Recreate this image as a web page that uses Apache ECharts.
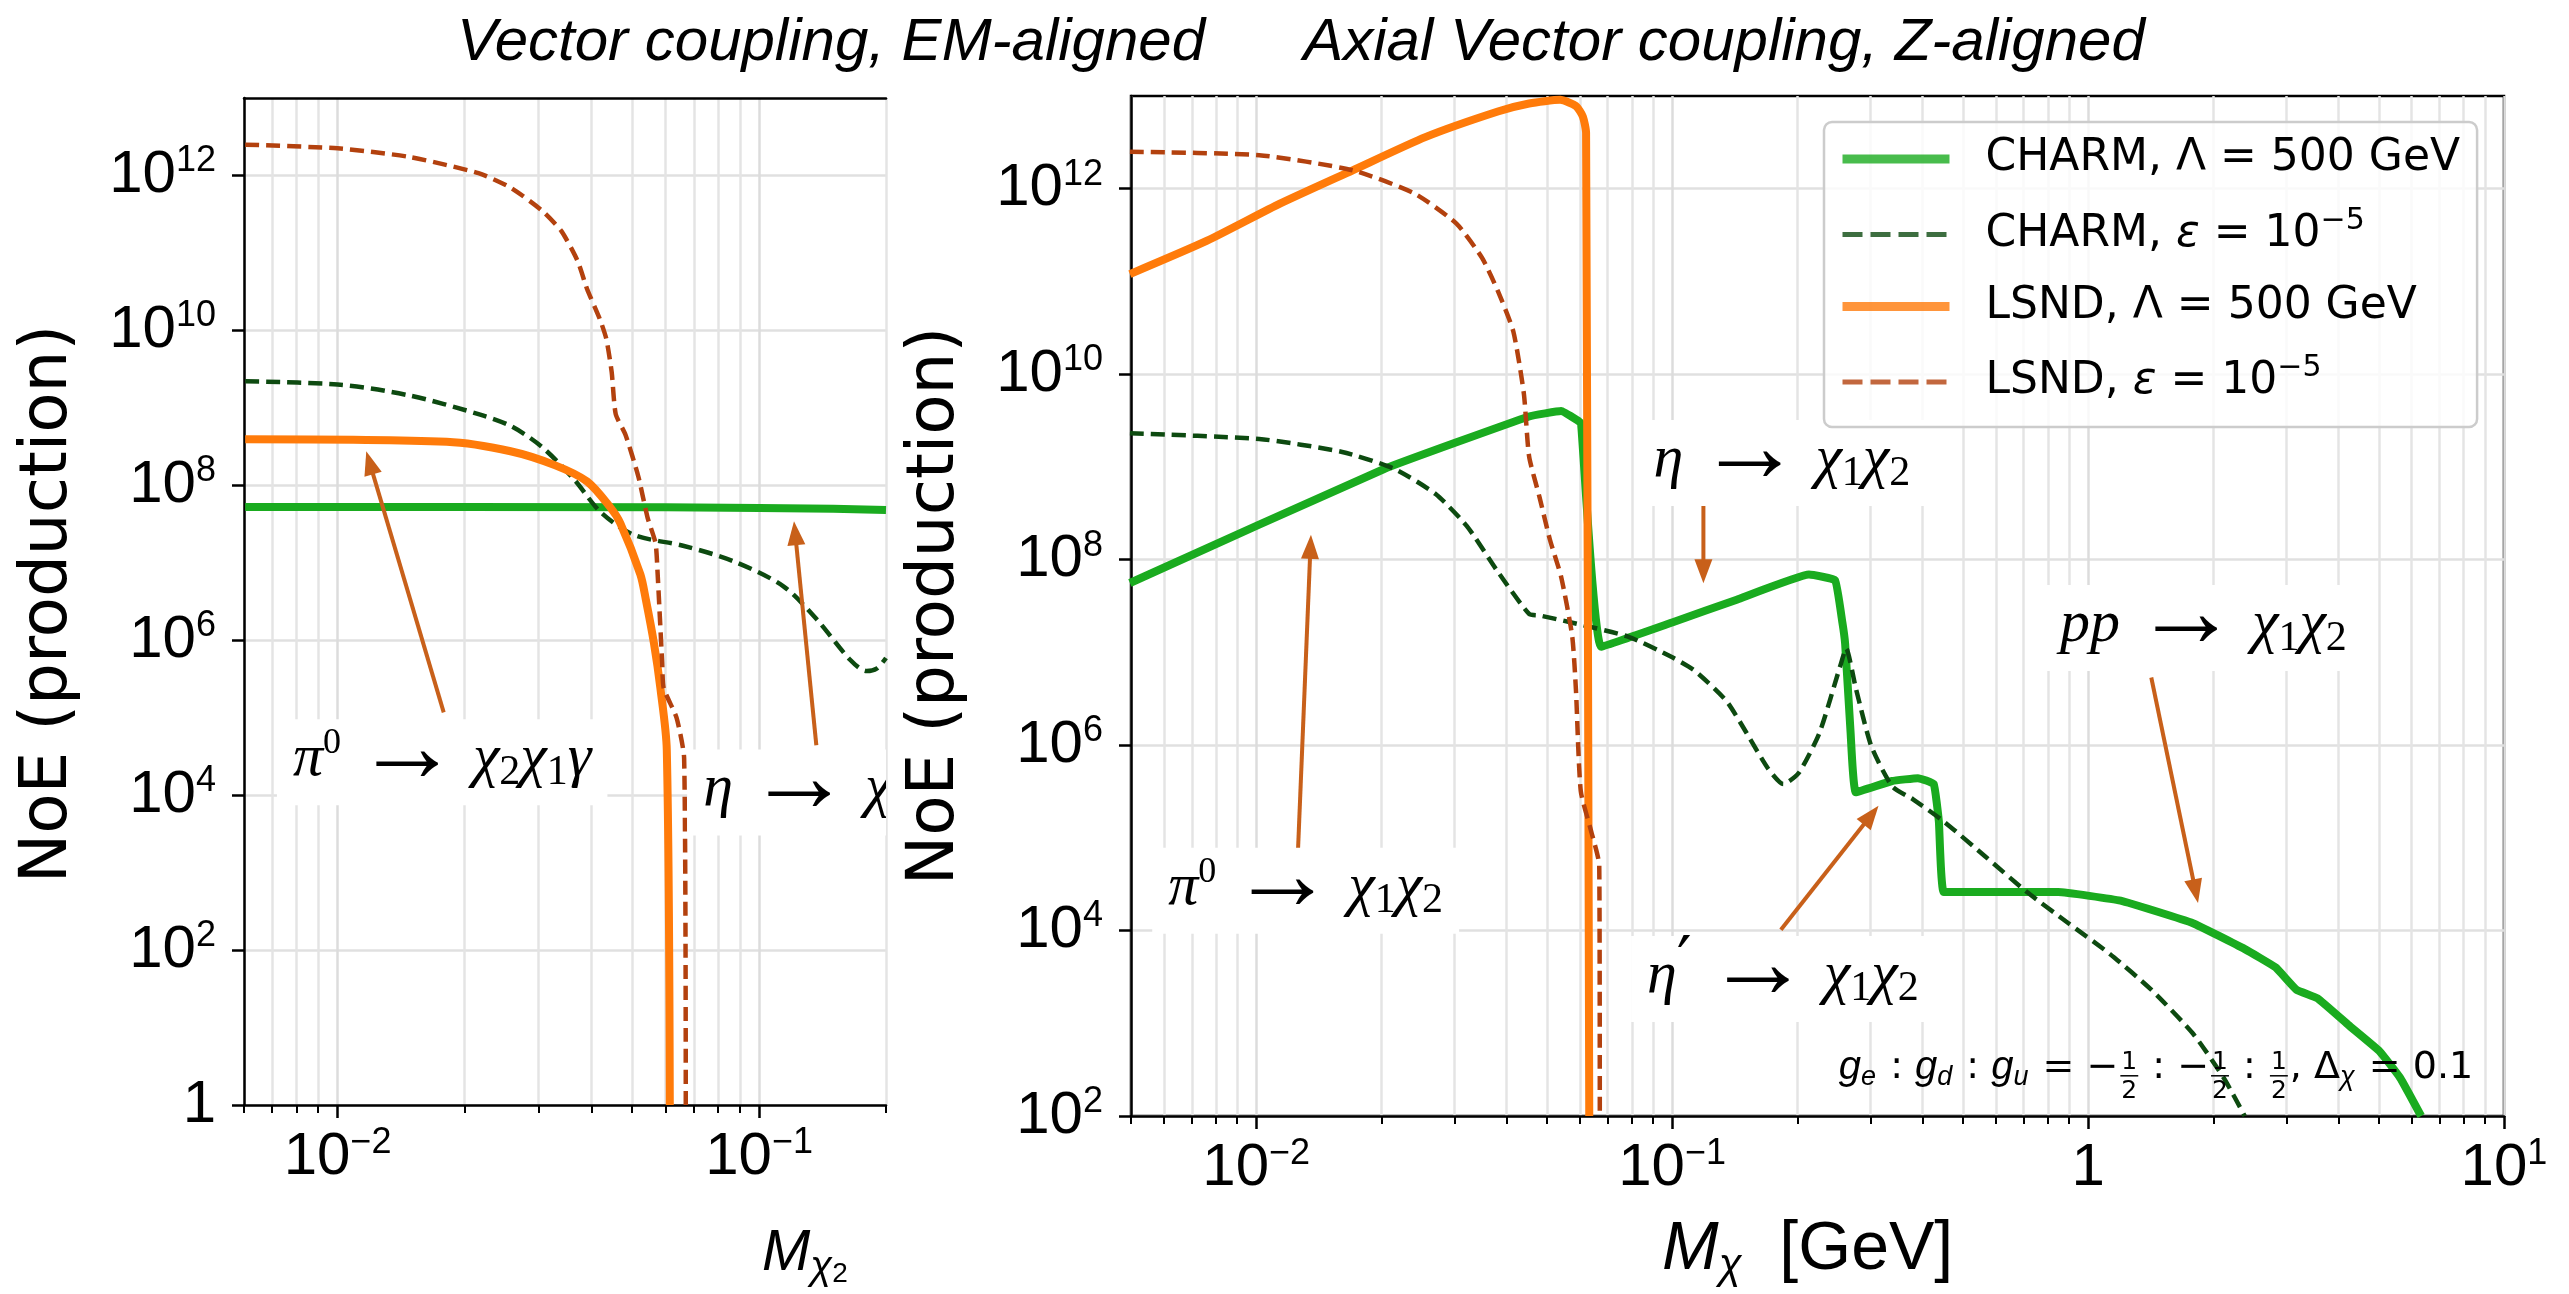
<!DOCTYPE html>
<html>
<head>
<meta charset="utf-8">
<script src="https://cdn.jsdelivr.net/npm/echarts@6/dist/echarts.min.js"></script>
<style>
  html, body { margin: 0; padding: 0; background: #ffffff; }
  #chart { width: 2569px; height: 1294px; }
</style>
</head>
<body>
<div id="chart"></div>
<script>
// ---------------------------------------------------------------------------
// Number of produced events vs. dark-state mass  [mass in GeV, NoE]
// ---------------------------------------------------------------------------

// Vector coupling, EM-aligned (left panel, mass of chi_2)
const vecCharmLambda = [[0.00604, 5.25e7], [0.02, 5.25e7], [0.06, 5.2e7], [0.1, 5.1e7], [0.15, 5.0e7], [0.2, 4.8e7]];
const vecCharmEps = [[0.00604, 2.2e9], [0.01, 2.0e9], [0.01476, 1.45e9], [0.0216, 8.3e8], [0.0258, 5.8e8],
  [0.0306, 3.1e8], [0.0365, 1.17e8], [0.0421, 4.5e7], [0.0504, 2.3e7], [0.066, 1.66e7], [0.0868, 1.05e7],
  [0.114, 5.0e6], [0.137, 1.86e6], [0.1644, 5.6e5], [0.18, 4.0e5], [0.19, 4.3e5], [0.2, 5.9e5]];
const vecLsndLambda = [[0.00604, 3.93e8], [0.01815, 3.64e8], [0.02573, 2.75e8], [0.03285, 1.81e8],
  [0.03909, 1.12e8], [0.04437, 5.19e7], [0.04688, 3.23e7], [0.05228, 7.08e6], [0.05386, 3.37e6],
  [0.05634, 9.0e5], [0.05831, 2.43e5], [0.0604, 3.84e4], [0.0614, 1]];
const vecLsndEps = [[0.00604, 2.5e12], [0.01, 2.24e12], [0.01476, 1.74e12], [0.0216, 1.07e12], [0.0258, 6.9e11],
  [0.0306, 3.5e11], [0.034, 1.9e11], [0.0371, 7.9e10], [0.0391, 3.4e10], [0.0419, 1.4e10], [0.0434, 7.8e9],
  [0.0447, 2.9e9], [0.0457, 8.3e8], [0.0482, 4.5e8], [0.0517, 1.3e8], [0.0544, 3.8e7], [0.0568, 1.8e7],
  [0.0574, 8.0e6], [0.0589, 5.1e5], [0.0594, 2.4e5], [0.0637, 1.0e5], [0.0664, 3.0e4], [0.067, 1]];

// Axial vector coupling, Z-aligned (right panel, mass of chi)
const axCharmLambda = [[0.00497, 5.6e7], [0.0203, 9.5e8], [0.0453, 3.5e9], [0.0541, 4.0e9], [0.0597, 3.1e9],
  [0.0604, 2.95e9], [0.0675, 1.15e7], [0.1, 2.1e7], [0.143, 3.7e7], [0.2133, 6.9e7], [0.2464, 6.0e7],
  [0.2566, 2.1e7], [0.2606, 1.23e7], [0.2686, 1.35e6], [0.2765, 3.1e5], [0.338, 4.1e5], [0.39, 4.4e5],
  [0.4255, 3.8e5], [0.4378, 1.5e5], [0.45, 2.6e4], [0.566, 2.6e4], [0.847, 2.6e4], [1.197, 2.1e4],
  [1.787, 1.2e4], [2.382, 6.3e3], [2.825, 4.0e3], [3.17, 2.3e3], [3.56, 1.86e3], [4.23, 955], [5.02, 500],
  [5.63, 257], [6.32, 100]];
const axCharmEps = [[0.00497, 2.3e9], [0.01017, 2.0e9], [0.0161, 1.45e9], [0.0215, 9.5e8], [0.027, 5.1e8],
  [0.0321, 2.3e8], [0.0381, 7.4e7], [0.0453, 2.6e7], [0.048, 2.5e7], [0.0572, 2.1e7], [0.0783, 1.48e7],
  [0.0998, 8.9e6], [0.1135, 6.3e6], [0.135, 3.0e6], [0.151, 1.35e6], [0.17, 5.6e5], [0.185, 3.8e5],
  [0.2015, 5.0e5], [0.226, 1.35e6], [0.2535, 7.1e6], [0.262, 1.1e7], [0.2765, 4.1e6], [0.301, 9.8e5],
  [0.338, 3.6e5], [0.3795, 2.6e5], [0.45, 1.5e5], [0.566, 6.3e4], [0.713, 2.6e4], [0.897, 1.2e4],
  [1.128, 5.6e3], [1.419, 2.3e3], [1.787, 776], [2.12, 257], [2.38, 100]];
const axLsndLambda = [[0.00497, 1.2e11], [0.00762, 2.75e11], [0.0114, 6.9e11], [0.01706, 1.58e12],
  [0.0255, 3.6e12], [0.0381, 6.8e12], [0.0453, 8.3e12], [0.0538, 9.1e12], [0.0587, 7.8e12], [0.061, 6.0e12],
  [0.0621, 4.0e12], [0.0632, 100]];
const axLsndEps = [[0.00497, 2.5e12], [0.01017, 2.3e12], [0.01706, 1.58e12], [0.024, 8.9e11], [0.0303, 4.2e11],
  [0.0349, 1.8e11], [0.0381, 7.9e10], [0.0415, 2.9e10], [0.044, 6.2e9], [0.0453, 1.3e9], [0.048, 4.7e8],
  [0.0508, 1.66e8], [0.0541, 6.5e7], [0.0575, 1.5e7], [0.0587, 4.0e6], [0.0603, 3.2e5], [0.0638, 1.2e5],
  [0.0668, 5.0e4], [0.067, 100]];

// Axis ticks
const leftXMajor = [0.01, 0.1];
const leftXMinor = [0.006, 0.007, 0.008, 0.009, 0.02, 0.03, 0.04, 0.05, 0.06, 0.07, 0.08, 0.09, 0.2];
const rightXMajor = [0.01, 0.1, 1, 10];
const rightXMinor = [0.005, 0.006, 0.007, 0.008, 0.009, 0.02, 0.03, 0.04, 0.05, 0.06, 0.07, 0.08, 0.09,
  0.2, 0.3, 0.4, 0.5, 0.6, 0.7, 0.8, 0.9, 2, 3, 4, 5, 6, 7, 8, 9];
const leftYMajor = [1, 1e2, 1e4, 1e6, 1e8, 1e10, 1e12];
const rightYMajor = [1e2, 1e4, 1e6, 1e8, 1e10, 1e12];

// Series names and their legend labels
const seriesNames = ['CHARM, \u039b = 500 GeV', 'CHARM, \u03b5 = 10\u207b\u2075', 'LSND, \u039b = 500 GeV', 'LSND, \u03b5 = 10\u207b\u2075'];
const legendLabels = [
  '{r|CHARM, \u039b = 500 GeV}',
  '{r|CHARM, }{i|\u03b5}{r| = 10}{s|\u22125}',
  '{r|LSND, \u039b = 500 GeV}',
  '{r|LSND, }{i|\u03b5}{r| = 10}{s|\u22125}'
];

// Process labels (anchor = [mass, NoE]) and arrows ([from], [to])
const TO = '{w| }{a|\u2192}{w| }';
const leftNotes = [
  { text: '{i|\u03c0}{p|0}' + TO + '{i|\u03c7}{b|2}{i|\u03c7}{b|1}{i|\u03b3}', at: [0.01771, 2.65e4], align: 'center' },
  { text: '{i|\u03b7}' + TO + '{i|\u03c7}{b|2}{i|\u03c7}{b|1}{i|\u03b3}', at: [0.0675, 1.08e4], align: 'left' }
];
const leftArrows = [
  { from: [0.01786, 1.17e5], to: [0.0117, 2.75e8] },
  { from: [0.1367, 4.4e4], to: [0.121, 3.43e7] }
];
const rightNotes = [
  { text: '{i|\u03b7}' + TO + '{i|\u03c7}{b|1}{i|\u03c7}{b|2}', at: [0.1836, 1.1e9], align: 'center' },
  { text: '{i|pp}' + TO + '{i|\u03c7}{b|1}{i|\u03c7}{b|2}', at: [1.894, 1.83e7], align: 'center' },
  { text: '{i|\u03c0}{p|0}' + TO + '{i|\u03c7}{b|1}{i|\u03c7}{b|2}', at: [0.01315, 2.68e4], align: 'center' },
  { text: '{i|\u03b7}{q|\u2032}' + TO + '{i|\u03c7}{b|1}{i|\u03c7}{b|2}', at: [0.1846, 3.01e3], align: 'center' }
];
const rightArrows = [
  { from: [0.1189, 3.88e8], to: [0.1189, 5.56e7] },
  { from: [1.419, 5.36e6], to: [1.838, 1.98e4] },
  { from: [0.01259, 6.6e4], to: [0.01354, 1.85e8] },
  { from: [0.1826, 1.02e4], to: [0.3135, 2.22e5] }
];
// Coupling ratio note, right-aligned at [mass, NoE]
const ratioAnchor = [8.43, 331];
const ratioParts = [
  ['g', 'it'], ['e', 'sub'], [' : ', 'rm'], ['g', 'it'], ['d', 'sub'], [' : ', 'rm'], ['g', 'it'], ['u', 'sub'],
  [' = \u2212', 'rm'], [['1', '2'], 'frac'], [' : \u2212', 'rm'], [['1', '2'], 'frac'], [' : ', 'rm'],
  [['1', '2'], 'frac'], [', \u0394', 'rm'], ['\u03c7', 'sub'], [' = 0.1', 'rm']
];

// ---------------------------------------------------------------------------
const SANS = '"Liberation Sans", Arial, sans-serif';
const DEJAVU = '"DejaVu Sans", sans-serif';
const SERIF = '"Liberation Serif", "DejaVu Serif", serif';

const COL_CHARM_L = '#1aab1f';
const COL_CHARM_E = '#0d4a10';
const COL_LSND_L = '#ff7b0a';
const COL_LSND_E = '#b3410e';
const COL_ARROW = '#c8601a';

function powLabel(v) {
  const e = Math.round(Math.log10(v));
  if (e === 0) return '{b|1}';
  return '{b|10}{s|' + (e < 0 ? '\u2212' + (-e) : String(e)) + '}';
}
// base digits centred in a 76px line, exponent raised by 14px
const tickRich = {
  b: { fontFamily: SANS, fontSize: 60, height: 76, lineHeight: 76, verticalAlign: 'bottom', color: '#000' },
  s: { fontFamily: SANS, fontSize: 36, height: 48, lineHeight: 48, verticalAlign: 'top', color: '#000' }
};

function majorX(grid, min, max, ticks) {
  return {
    type: 'log', gridIndex: grid, min: min, max: max, position: 'bottom',
    axisLine: { show: true, onZero: false, lineStyle: { color: '#000', width: 2.5 } },
    axisTick: { show: true, customValues: ticks, length: 13, lineStyle: { color: '#000', width: 2.5 } },
    axisLabel: { show: true, customValues: ticks, formatter: powLabel, rich: tickRich, margin: 14 },
    splitLine: { show: true, lineStyle: { color: '#dcdcdc', width: 2.5 } },
    minorTick: { show: false }, minorSplitLine: { show: false }
  };
}
function minorX(grid, min, max, ticks) {
  return {
    type: 'log', gridIndex: grid, min: min, max: max, position: 'bottom',
    axisLine: { show: false, onZero: false },
    axisTick: { show: true, customValues: ticks, length: 8, lineStyle: { color: '#000', width: 2 } },
    axisLabel: { show: false },
    splitLine: { show: true, lineStyle: { color: '#e4e4e4', width: 2.5 } }
  };
}
function majorY(grid, min, max, ticks) {
  return {
    type: 'log', gridIndex: grid, min: min, max: max, position: 'left',
    axisLine: { show: true, onZero: false, lineStyle: { color: '#000', width: 2.5 } },
    axisTick: { show: true, customValues: ticks, length: 12, lineStyle: { color: '#000', width: 2.5 } },
    axisLabel: { show: true, customValues: ticks, formatter: powLabel, rich: tickRich, margin: 28 },
    splitLine: { show: true, lineStyle: { color: '#e0e0e0', width: 2.5 } }
  };
}

function lineSeries(name, data, xi, yi, color, width, dashed, smooth) {
  return {
    type: 'line', name: name, data: data, xAxisIndex: xi, yAxisIndex: yi,
    showSymbol: false, symbol: 'none', clip: true, silent: true, z: 2, smooth: smooth || false,
    lineStyle: { color: color, width: width, type: dashed ? [14, 7] : 'solid', cap: 'butt', join: 'round' },
    itemStyle: { color: color }
  };
}

// math-like labels in the plot: base glyphs centred 32px below line top,
// subscripts 13.5px lower, superscripts 15.5px higher
const noteRich = {
  i: { fontFamily: SERIF, fontStyle: 'italic', fontSize: 60, height: 64, lineHeight: 64, verticalAlign: 'bottom', color: '#000' },
  w: { fontFamily: SERIF, fontSize: 56, height: 64, lineHeight: 64, verticalAlign: 'bottom', color: '#000' },
  a: { fontFamily: SERIF, fontSize: 104, height: 76, lineHeight: 64, verticalAlign: 'bottom', color: '#000' },
  b: { fontFamily: SERIF, fontSize: 42, height: 37, lineHeight: 37, verticalAlign: 'bottom', color: '#000' },
  p: { fontFamily: SERIF, fontSize: 36, height: 33, lineHeight: 33, verticalAlign: 'top', color: '#000' },
  q: { fontFamily: DEJAVU, fontSize: 66, height: 44, lineHeight: 44, verticalAlign: 'top', color: '#000' }
};

function arrowShapes(api, arrows) {
  const out = [];
  arrows.forEach(function (a) {
    const p0 = api.coord(a.from), p1 = api.coord(a.to);
    const dx = p1[0] - p0[0], dy = p1[1] - p0[1];
    const len = Math.sqrt(dx * dx + dy * dy);
    const ux = dx / len, uy = dy / len, nx = -uy, ny = ux;
    const hl = 24, hw = 9;
    const bx = p1[0] - ux * hl, by = p1[1] - uy * hl;
    out.push({ type: 'line', shape: { x1: p0[0], y1: p0[1], x2: bx + ux * 2, y2: by + uy * 2 },
      style: { stroke: COL_ARROW, lineWidth: 4 } });
    out.push({ type: 'polygon', shape: { points: [[p1[0], p1[1]], [bx + nx * hw, by + ny * hw], [bx - nx * hw, by - ny * hw]] },
      style: { fill: COL_ARROW } });
  });
  return out;
}
function noteShapes(api, notes) {
  return notes.map(function (n) {
    const p = api.coord(n.at);
    return { type: 'text', x: p[0], y: p[1], style: {
      text: n.text, rich: noteRich, align: n.align, verticalAlign: 'middle',
      backgroundColor: '#ffffff', padding: [8, 16, 14, 16] } };
  });
}

const measureCtx = document.createElement('canvas').getContext('2d');
function textW(str, font) { measureCtx.font = font; return measureCtx.measureText(str).width; }
function ratioShapes(api) {
  const p = api.coord(ratioAnchor);
  const fonts = {
    it: 'italic 40px ' + SANS, rm: '38px ' + DEJAVU, sub: 'italic 27px ' + SANS, frac: '25px ' + DEJAVU
  };
  const widths = ratioParts.map(function (part) {
    if (part[1] === 'frac') return Math.max(textW(part[0][0], fonts.frac), textW(part[0][1], fonts.frac)) + 6;
    return textW(part[0], fonts[part[1]]) + (part[1] === 'sub' ? 2 : 0);
  });
  const total = widths.reduce(function (s, w) { return s + w; }, 0);
  let x = p[0] - total;
  const c = p[1];
  const out = [];
  ratioParts.forEach(function (part, k) {
    const w = widths[k];
    if (part[1] === 'frac') {
      out.push({ type: 'text', x: x + w / 2, y: c - 5, style: { text: part[0][0], font: fonts.frac, fill: '#000', align: 'center', verticalAlign: 'middle' } });
      out.push({ type: 'line', shape: { x1: x + 2, y1: c + 8, x2: x + w - 2, y2: c + 8 }, style: { stroke: '#000', lineWidth: 1.5 } });
      out.push({ type: 'text', x: x + w / 2, y: c + 24, style: { text: part[0][1], font: fonts.frac, fill: '#000', align: 'center', verticalAlign: 'middle' } });
    } else {
      out.push({ type: 'text', x: x, y: part[1] === 'sub' ? c + 10 : c, style: { text: part[0], font: fonts[part[1]], fill: '#000', align: 'left', verticalAlign: 'middle' } });
    }
    x += w;
  });
  return out;
}

const option = {
  animation: false,
  backgroundColor: '#ffffff',
  grid: [
    { left: 244, top: 98, width: 642, height: 1007, containLabel: false },
    { left: 1131, top: 96, width: 1373, height: 1020, containLabel: false, show: true,
      borderColor: '#000', borderWidth: 2.5, backgroundColor: 'rgba(0,0,0,0)' }
  ],
  xAxis: [
    majorX(0, 0.006, 0.2, leftXMajor),
    minorX(0, 0.006, 0.2, leftXMinor),
    { type: 'log', gridIndex: 0, min: 0.006, max: 0.2, position: 'top',
      axisLine: { show: true, onZero: false, lineStyle: { color: '#000', width: 2.5 } },
      axisTick: { show: false }, axisLabel: { show: false }, splitLine: { show: false } },
    majorX(1, 0.005, 10, rightXMajor),
    minorX(1, 0.005, 10, rightXMinor)
  ],
  yAxis: [
    majorY(0, 1, 1e13, leftYMajor),
    majorY(1, 100, 1e13, rightYMajor)
  ],
  legend: {
    orient: 'vertical', left: 1824, top: 122,
    padding: [12, 17, 20, 14],
    itemWidth: 107, itemHeight: 10, itemGap: 22,
    backgroundColor: 'rgba(255,255,255,0.8)', borderColor: '#cccccc', borderWidth: 2.5, borderRadius: 8,
    selectedMode: false,
    itemStyle: { opacity: 0 },
    data: [
      { name: seriesNames[0], lineStyle: { color: COL_CHARM_L, width: 9, opacity: 0.8 } },
      { name: seriesNames[1], lineStyle: { color: COL_CHARM_E, width: 5, type: [20, 8], opacity: 0.8 } },
      { name: seriesNames[2], lineStyle: { color: COL_LSND_L, width: 9, opacity: 0.8 } },
      { name: seriesNames[3], lineStyle: { color: COL_LSND_E, width: 5, type: [20, 8], opacity: 0.8 } }
    ],
    formatter: function (name) { return legendLabels[seriesNames.indexOf(name)]; },
    textStyle: {
      color: '#000', fontFamily: DEJAVU, fontSize: 44, lineHeight: 50, padding: [0, 0, 0, 31],
      rich: {
        r: { fontFamily: DEJAVU, fontSize: 44, lineHeight: 50, color: '#000' },
        i: { fontFamily: DEJAVU, fontStyle: 'italic', fontSize: 44, lineHeight: 50, color: '#000' },
        s: { fontFamily: DEJAVU, fontSize: 30, height: 23, lineHeight: 23, verticalAlign: 'top', color: '#000' }
      }
    }
  },
  series: [
    lineSeries(seriesNames[0], vecCharmLambda, 0, 0, COL_CHARM_L, 8, false),
    lineSeries(seriesNames[1], vecCharmEps, 0, 0, COL_CHARM_E, 4.5, true, 0.3),
    lineSeries(seriesNames[2], vecLsndLambda, 0, 0, COL_LSND_L, 8, false, 0.3),
    lineSeries(seriesNames[3], vecLsndEps, 0, 0, COL_LSND_E, 4.5, true, 0.2),
    lineSeries(seriesNames[0], axCharmLambda, 3, 1, COL_CHARM_L, 8, false, 0.1),
    lineSeries(seriesNames[1], axCharmEps, 3, 1, COL_CHARM_E, 4.5, true, 0.2),
    lineSeries(seriesNames[2], axLsndLambda, 3, 1, COL_LSND_L, 8, false, 0.2),
    lineSeries(seriesNames[3], axLsndEps, 3, 1, COL_LSND_E, 4.5, true, 0.2),
    {
      type: 'custom', xAxisIndex: 0, yAxisIndex: 0, clip: true, silent: true, z: 3,
      data: [[0.05, 1e4]],
      renderItem: function (params, api) {
        return { type: 'group', children: arrowShapes(api, leftArrows).concat(noteShapes(api, leftNotes)) };
      }
    },
    {
      type: 'custom', xAxisIndex: 3, yAxisIndex: 1, clip: true, silent: true, z: 3,
      data: [[0.1, 1e5]],
      renderItem: function (params, api) {
        return { type: 'group', children: arrowShapes(api, rightArrows).concat(noteShapes(api, rightNotes)).concat(ratioShapes(api)) };
      }
    }
  ],
  graphic: [
    { type: 'text', x: 831, y: 43, style: { text: 'Vector coupling, EM-aligned', font: 'italic 60px ' + SANS, fill: '#000', align: 'center', verticalAlign: 'middle' } },
    { type: 'text', x: 1724, y: 43, style: { text: 'Axial Vector coupling, Z-aligned', font: 'italic 60px ' + SANS, fill: '#000', align: 'center', verticalAlign: 'middle' } },
    { type: 'text', x: 49, y: 604, rotation: Math.PI / 2, style: { text: 'NoE (production)', font: '66px ' + DEJAVU, fill: '#000', align: 'center', verticalAlign: 'middle' } },
    { type: 'text', x: 936, y: 606, rotation: Math.PI / 2, style: { text: 'NoE (production)', font: '66px ' + DEJAVU, fill: '#000', align: 'center', verticalAlign: 'middle' } },
    { type: 'text', x: 762, y: 1222, style: { text: '{m|M}{s|\u03c7}{d|2}', align: 'left', verticalAlign: 'top',
      rich: {
        m: { fontFamily: SANS, fontStyle: 'italic', fontSize: 58, height: 64, lineHeight: 64, verticalAlign: 'top', color: '#000' },
        s: { fontFamily: SANS, fontStyle: 'italic', fontSize: 40, height: 92, lineHeight: 92, verticalAlign: 'top', color: '#000' },
        d: { fontFamily: SANS, fontSize: 28, height: 104, lineHeight: 104, verticalAlign: 'top', color: '#000' }
      } } },
    { type: 'text', x: 1662, y: 1215, style: { text: '{m|M}{s|\u03c7}{r|  [GeV]}', align: 'left', verticalAlign: 'top',
      rich: {
        m: { fontFamily: SANS, fontStyle: 'italic', fontSize: 68, height: 70, lineHeight: 70, verticalAlign: 'top', color: '#000' },
        s: { fontFamily: SANS, fontStyle: 'italic', fontSize: 42, height: 102, lineHeight: 102, verticalAlign: 'top', color: '#000' },
        r: { fontFamily: SANS, fontSize: 68, height: 70, lineHeight: 70, verticalAlign: 'top', color: '#000' }
      } } }
  ]
};

const chart = echarts.init(document.getElementById('chart'), null, { renderer: 'canvas', width: 2569, height: 1294 });
chart.setOption(option);
</script>
</body>
</html>
